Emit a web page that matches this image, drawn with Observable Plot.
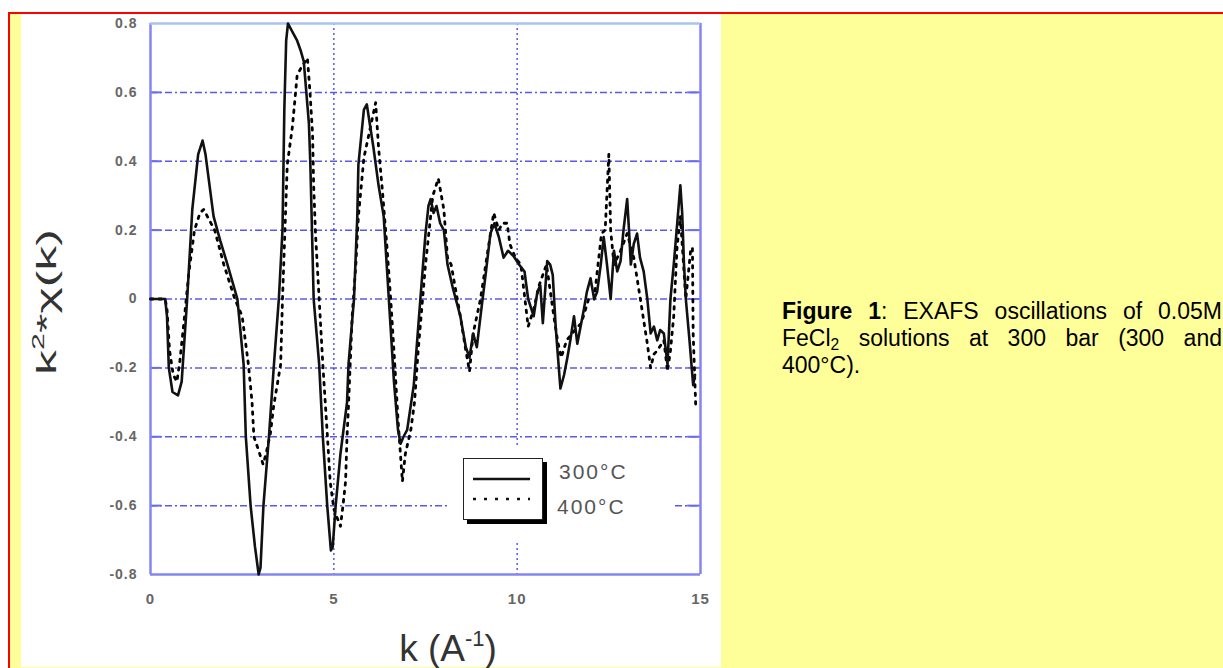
<!DOCTYPE html>
<html><head><meta charset="utf-8">
<script src="https://cdn.jsdelivr.net/npm/d3@7"></script>
<script src="https://cdn.jsdelivr.net/npm/@observablehq/plot@0.6"></script>
<style>
html,body{margin:0;padding:0;background:#fff;width:1223px;height:668px;overflow:hidden;}
#page{position:relative;width:1223px;height:668px;}
#yellow{position:absolute;left:8px;top:12px;width:1215px;height:656px;background:#ffff99;border-top:2px solid #ff0000;border-left:2px solid #ff0000;box-sizing:border-box}
#white{position:absolute;left:21px;top:14px;width:700px;height:653px;background:#fff}
#chart{position:absolute;left:0;top:0}
#legbg{position:absolute;left:448px;top:448px;width:224px;height:92px;background:#fff}
#caption{position:absolute;left:782px;top:298px;width:440px;font-family:"Liberation Sans",Arial,sans-serif;font-size:23px;line-height:27px;text-align:justify;color:#000}
#caption sub{font-size:0.68em;vertical-align:-0.25em;line-height:0}
#legend{position:absolute;left:463px;top:458px;width:80px;height:62px;border:1.5px solid #222;background:#fff;box-shadow:4px 4px 0 #000;box-sizing:border-box}
.leglab{position:absolute;font-family:"Liberation Sans",Arial,sans-serif;font-size:21px;letter-spacing:2px;color:#555;line-height:1}
</style></head>
<body>
<div id="page">
  <div id="yellow"></div>
  <div id="white"></div>
  <div id="chart"></div>
  <div id="legbg"></div>
  <div id="legend"><svg width="80" height="62" style="position:absolute;left:-1.5px;top:-1.5px">
    <line x1="10" x2="67" y1="21" y2="21" stroke="#111" stroke-width="2.5"/>
    <line x1="10" x2="67" y1="41" y2="41" stroke="#111" stroke-width="2.5" stroke-dasharray="3,8"/>
  </svg></div>
  <div class="leglab" id="lab300" style="left:559px;top:461px"></div>
  <div class="leglab" id="lab400" style="left:557px;top:496px"></div>
  <div id="caption"><b>Figure 1</b>: EXAFS oscillations of 0.05M FeCl<sub>2</sub> solutions at 300 bar (300 and 400°C).</div>
</div>
<script>
// ---- data ----
const seriesNames = ["300°C", "400°C"];
const k300 = [0,0.4,0.45,0.5,0.6,0.75,0.85,1.0,1.14,1.3,1.42,1.5,1.72,1.9,2.1,2.37,2.54,2.6,2.73,2.85,2.95,3.0,3.08,3.23,3.36,3.5,3.6,3.65,3.7,3.75,3.9,4.0,4.1,4.18,4.32,4.36,4.45,4.6,4.7,4.82,4.92,4.97,5.05,5.18,5.36,5.4,5.55,5.64,5.67,5.82,5.9,5.95,6.08,6.22,6.36,6.5,6.64,6.75,6.82,6.9,7.0,7.18,7.36,7.5,7.58,7.64,7.72,7.8,7.9,8.0,8.1,8.25,8.45,8.6,8.7,8.8,8.9,9.0,9.15,9.27,9.38,9.5,9.63,9.75,9.9,10.05,10.2,10.3,10.45,10.55,10.63,10.7,10.82,10.9,10.97,11.05,11.1,11.18,11.28,11.37,11.45,11.55,11.64,11.73,11.82,11.9,12.0,12.1,12.18,12.28,12.36,12.45,12.55,12.64,12.73,12.82,12.9,13.0,13.05,13.1,13.18,13.27,13.35,13.45,13.55,13.64,13.73,13.82,13.9,14.0,14.1,14.18,14.27,14.35,14.45,14.5,14.55,14.6,14.7,14.8,14.85];
const chi300 = [0,0,-0.05,-0.2,-0.27,-0.28,-0.24,0,0.26,0.42,0.46,0.42,0.24,0.17,0.1,0,-0.19,-0.4,-0.6,-0.72,-0.8,-0.78,-0.6,-0.4,-0.2,0,0.2,0.55,0.75,0.8,0.77,0.75,0.72,0.69,0.51,0.39,0,-0.19,-0.4,-0.6,-0.73,-0.72,-0.6,-0.45,-0.3,-0.19,0,0.24,0.39,0.55,0.565,0.53,0.44,0.33,0.24,0,-0.24,-0.38,-0.42,-0.4,-0.38,-0.25,0,0.19,0.27,0.29,0.25,0.27,0.22,0.2,0.1,0.03,-0.05,-0.14,-0.17,-0.1,-0.14,-0.05,0.08,0.19,0.22,0.18,0.12,0.14,0.125,0.1,0.08,0,-0.05,0.02,0.04,-0.07,0.11,0.1,0.07,-0.08,-0.15,-0.26,-0.22,-0.17,-0.12,-0.05,-0.13,-0.08,-0.03,0.02,0.06,0,0.02,0.1,0.18,0.1,0,0.14,0.08,0.11,0.2,0.29,0.2,0.1,0.16,0.19,0.12,0.08,0,-0.1,-0.08,-0.12,-0.09,-0.1,-0.19,0,0.1,0.2,0.33,0.25,0.1,0,-0.12,-0.25,-0.22];
const k400 = [0,0.4,0.45,0.52,0.62,0.72,0.8,0.9,1.05,1.2,1.35,1.45,1.55,1.75,2.0,2.3,2.5,2.67,2.77,2.82,2.95,3.07,3.15,3.27,3.36,3.55,3.6,3.68,3.73,3.87,4.0,4.1,4.28,4.35,4.42,4.45,4.5,4.6,4.7,4.82,4.9,5.0,5.18,5.25,5.32,5.36,5.4,5.5,5.6,5.67,5.82,6.0,6.14,6.22,6.32,6.45,6.55,6.64,6.75,6.87,6.95,7.1,7.2,7.3,7.5,7.7,7.85,8.0,8.1,8.2,8.45,8.6,8.7,8.8,9.0,9.2,9.36,9.5,9.6,9.73,9.8,9.95,10.1,10.3,10.45,10.6,10.8,11.0,11.1,11.2,11.35,11.5,11.75,11.95,12.1,12.3,12.4,12.5,12.55,12.64,12.82,13.0,13.18,13.36,13.55,13.64,13.73,13.82,14.0,14.1,14.18,14.27,14.36,14.45,14.6,14.73,14.78,14.8,14.87];
const chi400 = [0,0,-0.03,-0.15,-0.22,-0.24,-0.18,-0.08,0.08,0.2,0.25,0.26,0.24,0.2,0.1,0,-0.05,-0.19,-0.3,-0.4,-0.44,-0.48,-0.45,-0.39,-0.31,-0.19,0,0.24,0.39,0.5,0.65,0.67,0.7,0.6,0.48,0.33,0.19,0,-0.19,-0.39,-0.53,-0.61,-0.66,-0.6,-0.53,-0.4,-0.31,-0.05,0.1,0.24,0.41,0.5,0.57,0.44,0.32,0.15,0,-0.15,-0.35,-0.53,-0.45,-0.38,-0.3,-0.15,0.1,0.3,0.35,0.26,0.12,0.1,-0.05,-0.15,-0.21,-0.1,0,0.14,0.25,0.2,0.22,0.22,0.16,0.12,0.1,-0.08,-0.03,0.04,0.1,-0.05,-0.12,-0.17,-0.12,-0.1,-0.07,0,0,0.19,0.2,0.42,0.2,0.1,0.14,0.19,0.12,0,-0.13,-0.2,-0.16,-0.15,-0.12,-0.21,-0.15,-0.05,0.15,0.24,0,0.14,0.15,-0.1,-0.31];
const xTicks = [0, 5, 10, 15];
const yTicks = [-0.8, -0.6, -0.4, -0.2, 0, 0.2, 0.4, 0.6, 0.8];
const gridYVals = [-0.6, -0.4, -0.2, 0, 0.2, 0.4, 0.6];
const gridXVals = [5, 10];

const d300 = k300.map((k, i) => ({k, v: chi300[i]}));
const d400 = k400.map((k, i) => ({k, v: chi400[i]}));

const chart = Plot.plot({
  width: 720, height: 668,
  marginLeft: 150, marginRight: 20, marginTop: 23, marginBottom: 94,
  x: {domain: [0, 15]},
  y: {domain: [-0.8, 0.8]},
  style: {background: "transparent", fontFamily: "Liberation Sans, Arial, sans-serif", overflow: "visible"},
  marks: [
    Plot.gridY(gridYVals, {stroke: "#3c3ce8", strokeOpacity: 0.85, strokeWidth: 1.5, strokeDasharray: "7,3,2,3"}),
    Plot.gridX(gridXVals, {stroke: "#3c3ce8", strokeOpacity: 0.85, strokeWidth: 1.5, strokeDasharray: "2,3"}),
    Plot.ruleY(gridYVals, {x1: 0, x2: 0.3, stroke: "#6a6af0", strokeWidth: 2}),
    Plot.ruleY(gridYVals, {x1: 14.65, x2: 15, stroke: "#6a6af0", strokeWidth: 2}),
    Plot.ruleX([0, 15], {stroke: "#8484f4", strokeWidth: 2.5}),
    Plot.ruleY([-0.8], {stroke: "#8484f4", strokeWidth: 2.5}),
    Plot.ruleY([0.8], {stroke: "#a8c4f0", strokeWidth: 2.5}),
    Plot.line(d400, {x: "k", y: "v", stroke: "#000", strokeWidth: 2.8, strokeDasharray: "2.5,6"}),
    Plot.line(d300, {x: "k", y: "v", stroke: "#111", strokeWidth: 2.6}),
    Plot.axisX(xTicks, {tickSize: 0, tickPadding: 19, fill: "#666", fontSize: 15, label: null}),
    Plot.axisY(yTicks, {tickSize: 0, tickPadding: 13, fill: "#666", fontSize: 14, label: null,
      tickFormat: d => d === 0 ? "0" : d.toFixed(1)})
  ]
});
document.getElementById("chart").appendChild(chart);

const svg = d3.select(chart);
svg.selectAll('[aria-label="x-axis tick label"] text, [aria-label="y-axis tick label"] text')
  .style("font-weight", "bold").style("letter-spacing", "1px");

// axis titles
const xt = svg.append("text").attr("x", 448).attr("y", 661).attr("text-anchor", "middle")
  .attr("font-size", 37).attr("fill", "#333").attr("font-family", "Liberation Sans, Arial, sans-serif");
xt.append("tspan").text("k (A");
xt.append("tspan").attr("dy", -15).attr("font-size", 22).text("-1");
xt.append("tspan").attr("dy", 15).text(")");

const yt = svg.append("text").attr("transform", "translate(56,302) rotate(-90)").attr("text-anchor", "middle")
  .attr("font-size", 28).attr("fill", "#333").attr("font-family", "Liberation Sans, Arial, sans-serif")
  .attr("textLength", 146).attr("lengthAdjust", "spacingAndGlyphs");
yt.append("tspan").text("k");
yt.append("tspan").attr("dy", -12).attr("font-size", 17).text("2");
yt.append("tspan").attr("dy", 12).text("*χ(k)");

document.getElementById("lab300").textContent = seriesNames[0];
document.getElementById("lab400").textContent = seriesNames[1];
</script>
</body></html>
